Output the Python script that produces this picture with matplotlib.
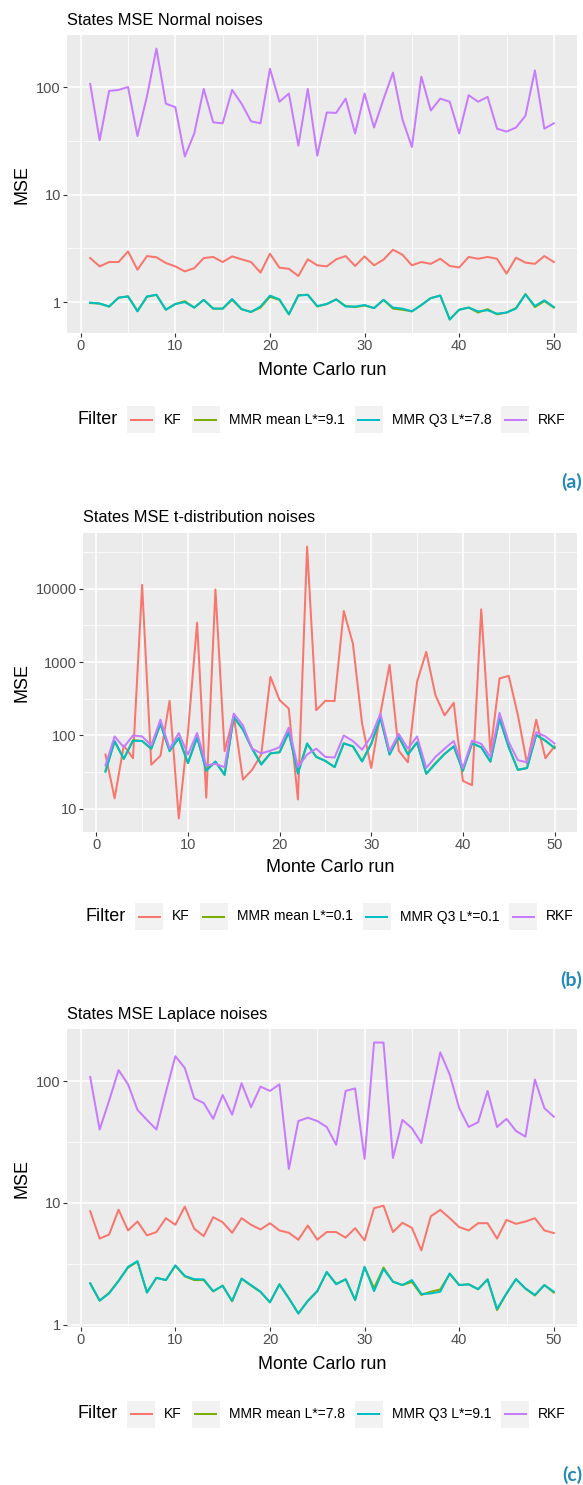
import matplotlib
matplotlib.use("Agg")
import matplotlib.pyplot as plt
from matplotlib.lines import Line2D
from matplotlib.patches import Rectangle
from matplotlib.ticker import FixedLocator, NullFormatter
import numpy as np

plt.rcParams['font.family'] = ['Liberation Sans', 'DejaVu Sans']

# ---------------- data ----------------
runs = list(range(1, 51))
filters = ["KF", "MMR mean", "MMR Q3", "RKF"]
colors = ["#F8766D", "#7CAE00", "#00BFC4", "#C77CFF"]

# (a) Normal noises
kf_a = [2.57, 2.15, 2.36, 2.36, 2.96, 2.0, 2.68, 2.61, 2.31, 2.15,
        1.93, 2.07, 2.57, 2.63, 2.36, 2.66, 2.50, 2.36, 1.88, 2.82,
        2.09, 2.04, 1.75, 2.50, 2.20, 2.15, 2.50, 2.68, 2.17, 2.66,
        2.20, 2.48, 3.07, 2.76, 2.20, 2.36, 2.27, 2.53, 2.17, 2.10,
        2.63, 2.53, 2.63, 2.53, 1.84, 2.59, 2.33, 2.27, 2.68, 2.36]
mean_a = [0.98, 0.97, 0.91, 1.10, 1.13, 0.83, 1.12, 1.17, 0.85, 0.96,
          1.02, 0.89, 1.05, 0.87, 0.87, 1.05, 0.86, 0.81, 0.89, 1.12,
          1.05, 0.77, 1.16, 1.17, 0.91, 0.96, 1.06, 0.92, 0.90, 0.93,
          0.88, 1.05, 0.87, 0.85, 0.82, 0.94, 1.09, 1.15, 0.69, 0.85,
          0.89, 0.80, 0.86, 0.77, 0.80, 0.88, 1.19, 0.90, 1.02, 0.89]
q3_a = [0.99, 0.97, 0.91, 1.10, 1.13, 0.82, 1.13, 1.17, 0.85, 0.96,
        1.00, 0.89, 1.05, 0.87, 0.87, 1.07, 0.86, 0.81, 0.91, 1.15,
        1.06, 0.77, 1.15, 1.17, 0.92, 0.96, 1.06, 0.91, 0.91, 0.94,
        0.88, 1.05, 0.89, 0.87, 0.82, 0.94, 1.09, 1.15, 0.69, 0.85,
        0.89, 0.82, 0.84, 0.78, 0.80, 0.87, 1.18, 0.92, 1.04, 0.90]
rkf_a = [107, 32, 92, 94, 100, 35, 82, 228, 70, 65,
         22.6, 37, 96, 47, 46, 94, 70, 48, 46, 148,
         73, 87, 28.5, 96, 23, 58, 57.5, 78, 37, 87,
         42, 77, 136, 50, 27.7, 125, 60.5, 78, 73, 37,
         84, 73, 81, 41, 38.5, 42, 54, 143, 41, 46]
labels_a = ["KF", "MMR mean L*=9.1", "MMR Q3 L*=7.8", "RKF"]
yticks_a = [1, 10, 100]
yticklabels_a = ["1", "10", "100"]

# (b) t-distribution noises
kf_b = [55, 13.9, 73, 49, 11300, 40, 53, 297, 7.4, 110,
        3450, 14.2, 9800, 61, 188, 25, 34, 55, 632, 303,
        233, 13.4, 37600, 221, 297, 295, 4980, 1790, 145, 36,
        200, 920, 62, 43, 540, 1380, 355, 188, 278, 24,
        21, 5240, 60, 600, 650, 190, 41, 164, 49, 71]
mean_b = [33, 83, 48, 86, 84, 66, 143, 62, 92, 42,
          94, 34, 44, 29, 177, 121, 66, 41, 57, 59,
          110, 31, 77, 51, 45, 37, 78, 71, 45, 77,
          173, 55, 96, 55, 80, 30, 42, 56, 71, 33,
          78, 69, 44, 168, 69, 34, 36, 101, 85, 67]
q3_b = [32, 84, 48, 85, 84, 66, 145, 61, 93, 42,
        95, 33, 44, 29, 179, 120, 66, 40, 57, 59,
        111, 30, 78, 51, 45, 37, 78, 71, 44, 77,
        175, 55, 97, 55, 81, 30, 41, 56, 71, 33,
        78, 69, 44, 170, 69, 34, 36, 102, 85, 68]
rkf_b = [39, 97, 69, 100, 97, 73, 164, 66, 108, 55,
         108, 39, 41, 37, 199, 137, 66, 57, 62, 69,
         128, 37, 55, 66, 51, 50, 100, 84, 64, 97,
         199, 61, 105, 66, 97, 36, 51, 66, 84, 36,
         85, 77, 51, 203, 81, 46, 43, 111, 97, 78]
labels_b = ["KF", "MMR mean L*=0.1", "MMR Q3 L*=0.1", "RKF"]
yticks_b = [10, 100, 1000, 10000]
yticklabels_b = ["10", "100", "1000", "10000"]

# (c) Laplace noises
kf_c = [8.55, 5.1, 5.5, 8.8, 5.95, 7.04, 5.42, 5.77, 7.5, 6.62,
        9.33, 6.14, 5.35, 7.64, 6.95, 5.69, 7.5, 6.62, 6.06, 6.82,
        5.95, 5.69, 4.99, 6.53, 5.0, 5.77, 5.77, 5.19, 6.21, 4.93,
        9.05, 9.5, 5.77, 6.87, 6.25, 4.08, 7.78, 8.77, 7.5, 6.34,
        5.95, 6.82, 6.82, 5.1, 7.26, 6.74, 7.04, 7.5, 5.95, 5.66]
mean_c = [2.19, 1.58, 1.83, 2.30, 2.95, 3.30, 1.84, 2.43, 2.33, 3.05,
          2.50, 2.33, 2.33, 1.88, 2.10, 1.56, 2.38, 2.10, 1.86, 1.53,
          2.15, 1.65, 1.24, 1.57, 1.89, 2.70, 2.17, 2.36, 1.60, 2.97,
          2.00, 2.95, 2.26, 2.12, 2.25, 1.76, 1.87, 1.95, 2.62, 2.12,
          2.15, 1.96, 2.36, 1.32, 1.81, 2.37, 1.98, 1.74, 2.12, 1.84]
q3_c = [2.19, 1.58, 1.81, 2.29, 2.99, 3.33, 1.84, 2.43, 2.33, 3.08,
        2.52, 2.37, 2.36, 1.89, 2.09, 1.57, 2.40, 2.12, 1.87, 1.53,
        2.15, 1.65, 1.24, 1.57, 1.89, 2.72, 2.15, 2.37, 1.60, 2.99,
        1.89, 2.87, 2.26, 2.12, 2.33, 1.79, 1.81, 1.87, 2.64, 2.12,
        2.15, 1.96, 2.36, 1.35, 1.81, 2.37, 1.99, 1.76, 2.12, 1.87]
rkf_c = [108, 40, 69, 123, 94, 58, 48, 40, 81, 160,
         128, 72, 66, 49, 77, 53, 96, 61, 90, 83,
         94, 19, 47, 50, 47, 42, 30, 83, 87, 23,
         207, 207, 23.4, 48, 41, 31, 73, 172, 113, 60,
         42, 46, 83, 42, 49, 39, 35, 103, 60, 51]
labels_c = ["KF", "MMR mean L*=7.8", "MMR Q3 L*=9.1", "RKF"]
yticks_c = [1, 10, 100]
yticklabels_c = ["1", "10", "100"]

xticks = [0, 10, 20, 30, 40, 50]
xticklabels = ["0", "10", "20", "30", "40", "50"]

titles = ["States MSE Normal noises", "States MSE t-distribution noises",
          "States MSE Laplace noises"]
tags = ["(a)", "(b)", "(c)"]

# ---------------- figure ----------------
W, H = 583, 1485
fig = plt.figure(figsize=(W / 100, H / 100), dpi=100)
fig.patch.set_facecolor("white")


def fx(x):
    return x / W


def fy(y):
    return 1 - y / H


def draw_panel(rect, series, labels, yticks, yticklabels, title, title_y,
               xlab_y, leg_y, tag, tag_y):
    l, t, r, b = rect
    ax = fig.add_axes([fx(l), fy(b), (r - l) / W, (b - t) / H])
    ax.set_facecolor("#EBEBEB")
    for s in ax.spines.values():
        s.set_visible(False)
    for vals, c in zip(series, colors):
        ax.plot(runs, vals, color=c, lw=1.45, solid_joinstyle="round",
                zorder=3)
    ax.set_yscale("log")
    allv = np.log10(np.concatenate([np.asarray(v, float) for v in series]))
    lo, hi = allv.min(), allv.max()
    pad = 0.05 * (hi - lo)
    ax.set_ylim(10 ** (lo - pad), 10 ** (hi + pad))
    xr = max(runs) - min(runs)
    ax.set_xlim(min(runs) - 0.05 * xr, max(runs) + 0.05 * xr)
    ax.set_yticks(yticks)
    ax.set_yticklabels(yticklabels)
    minors_y = [10 ** (k + 0.5) for k in range(-2, 6)
                if lo - pad < k + 0.5 < hi + pad]
    ax.yaxis.set_minor_locator(FixedLocator(minors_y))
    ax.yaxis.set_minor_formatter(NullFormatter())
    ax.set_xticks(xticks)
    ax.set_xticklabels(xticklabels)
    ax.xaxis.set_minor_locator(FixedLocator([5, 15, 25, 35, 45]))
    ax.grid(which="major", color="white", lw=1.1, zorder=0)
    ax.grid(which="minor", color="white", lw=0.55, zorder=0)
    ax.set_axisbelow(True)
    ax.tick_params(which="major", length=2.7, width=0.8, color="#333333",
                   labelcolor="#4D4D4D", labelsize=10.5, pad=1.8)
    ax.tick_params(which="minor", length=0)

    fig.text(fx(l), fy(title_y), title, fontsize=11.8, ha="left",
             va="baseline", color="black")
    fig.text(fx(21.5), fy((t + b) / 2), "MSE", rotation=90, fontsize=12.9,
             ha="center", va="center", color="black")
    fig.text(fx((l + r) / 2), fy(xlab_y), "Monte Carlo run", fontsize=12.9,
             ha="center", va="baseline", color="black")

    # legend (bottom, horizontal)
    renderer = fig.canvas.get_renderer()
    t_title = fig.text(0, 0, "Filter", fontsize=13, va="center", ha="left")
    t_labels = [fig.text(0, 0, lab, fontsize=10, va="center", ha="left")
                for lab in labels]
    wt = t_title.get_window_extent(renderer).width
    wl = [tl.get_window_extent(renderer).width for tl in t_labels]
    box_w, box_h, g1, g2, g3 = 28, 27, 9, 9, 10
    total = wt + g1 + sum(box_w + g2 + w for w in wl) + g3 * (len(wl) - 1)
    x = (l + r) / 2 - total / 2
    t_title.set_position((fx(x), fy(leg_y)))
    x += wt + g1
    for i, (tl, w, c) in enumerate(zip(t_labels, wl, colors)):
        fig.add_artist(Rectangle((fx(x), fy(leg_y + box_h / 2)), box_w / W,
                                 box_h / H, transform=fig.transFigure,
                                 facecolor="#F2F2F2", edgecolor="none"))
        fig.add_artist(Line2D([fx(x + 3.5), fx(x + box_w - 3.5)],
                              [fy(leg_y), fy(leg_y)],
                              transform=fig.transFigure, color=c, lw=1.45))
        x += box_w + g2
        tl.set_position((fx(x), fy(leg_y)))
        x += w + g3

    fig.text(fx(582), fy(tag_y), tag, fontsize=14, fontweight="bold",
             family=["Lato", "DejaVu Sans"], color="#2389B8", ha="right",
             va="center")
    return ax


draw_panel((67, 35, 577, 333), [kf_a, mean_a, q3_a, rkf_a], labels_a,
           yticks_a, yticklabels_a, titles[0], 25, 375, 419.5, tags[0], 482)
draw_panel((83, 533, 577, 832), [kf_b, mean_b, q3_b, rkf_b], labels_b,
           yticks_b, yticklabels_b, titles[1], 522, 872, 916.5, tags[1], 980)
draw_panel((67, 1029, 577, 1327), [kf_c, mean_c, q3_c, rkf_c], labels_c,
           yticks_c, yticklabels_c, titles[2], 1019, 1369, 1414, tags[2], 1475)

fig.savefig("out.png", dpi=100, facecolor="white")
